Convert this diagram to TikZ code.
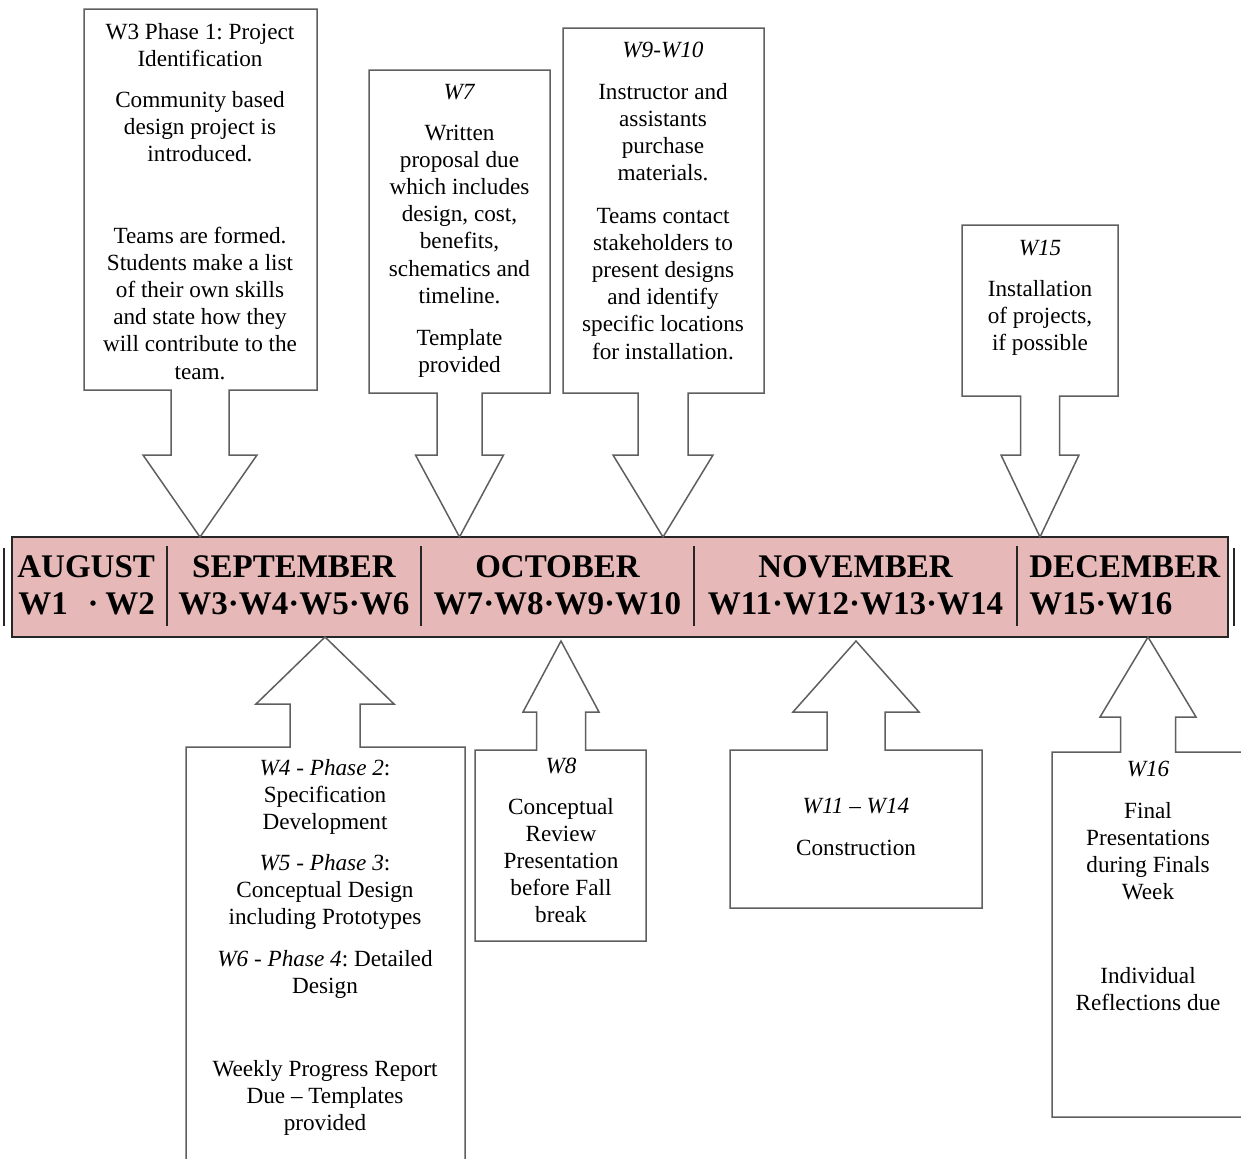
\documentclass[tikz,border=0pt]{standalone}
\usepackage{fontspec}
\setmainfont{Liberation Serif}
\frenchspacing
\definecolor{barpink}{RGB}{230,185,184}
\definecolor{edgegray}{RGB}{95,95,95}
\tikzset{
  shapeline/.style={draw=edgegray, line width=0.75pt, line join=miter, fill=white},
  barbox/.style={draw=black!85, line width=0.9pt, fill=barpink},
  txt/.style={inner sep=0pt, anchor=base, align=center, font=\fontsize{11.6}{13.6}\selectfont\frenchspacing},
  month/.style={inner sep=0pt, anchor=base, font=\fontsize{16.5}{18}\selectfont\bfseries},
  divider/.style={draw=black!85, line width=0.9pt},
}
% L, O (far edge y), R, A (attach edge y), c, s (shaft half), h (head half), H (head base y), tip y
\newcommand\callshape[9]{%
  \draw[shapeline] (#1,#2) -- (#3,#2) -- (#3,#4) -- ({#5+#6},#4) -- ({#5+#6},#8)
    -- ({#5+#7},#8) -- (#5,#9) -- ({#5-#7},#8) -- ({#5-#6},#8) -- ({#5-#6},#4)
    -- (#1,#4) -- cycle;}
\begin{document}
\begin{tikzpicture}[x=0.5pt,y=-0.5pt]
\useasboundingbox (0,0) rectangle (1241,1158);
\clip (0,0) rectangle (1241,1158);

% timeline bar
\draw[barbox] (12,537) rectangle (1228,637);
\node[inner sep=0pt, minimum size=0pt] (bar) at (620,587) {};
\foreach \x in {167,421,694,1017} \draw[divider] (\x,546) -- (\x,626);
\draw[divider] (4,548) -- (4,626);
\draw[divider] (1234,548) -- (1234,626);

\node[month, anchor=base west] (aug) at (17,577) {AUGUST};
\node[month, anchor=base west] (augw) at (18,614) {W1\hspace{0.6em}·\hspace{0.2em}W2};
\node[month] (sep) at (294,577) {SEPTEMBER};
\node[month] (sepw) at (294,614) {W3·W4·W5·W6};
\node[month] (oct) at (557.5,577) {OCTOBER};
\node[month] (octw) at (557.5,614) {W7·W8·W9·W10};
\node[month] (nov) at (855.5,577) {NOVEMBER};
\node[month] (novw) at (855.5,614) {W11·W12·W13·W14};
\node[month, anchor=base west] (dec) at (1029,577) {DECEMBER};
\node[month, anchor=base west] (decw) at (1029,614) {W15·W16};

% top callouts (arrow down to bar)
\callshape{84}{9}{317}{390}{200}{29}{57}{455}{537}
\callshape{369}{70}{550}{393}{459.5}{22.5}{44}{455}{537}
\callshape{563}{28}{764}{393}{663}{25}{50}{455}{537}
\callshape{962}{225}{1118}{396}{1040}{19.5}{39}{455}{537}

% bottom callouts (arrow up to bar)
\callshape{186}{1175}{465}{747}{325}{35}{69}{704}{637}
\callshape{475}{941}{646}{750}{561}{24.5}{38}{712}{641}
\callshape{730}{908}{982}{750}{856}{29}{63}{712}{641}
\callshape{1052}{1117}{1260}{752}{1148}{27.5}{48}{717}{637}

% texts: top (base anchor = baseline of last line)
\node[txt] (a1) at (200,66.2) {W3 Phase 1: Project\\Identification};
\node[txt] (a2) at (200,161.4) {Community based\\design project is\\introduced.};
\node[txt] (a3) at (200,379) {Teams are formed.\\Students make a list\\of their own skills\\and state how they\\will contribute to the\\team.};

\node[txt] (b1) at (459.5,99) {\textit{W7}};
\node[txt] (b2) at (459.5,303.2) {Written\\proposal due\\which includes\\design, cost,\\benefits,\\schematics and\\timeline.};
\node[txt] (b3) at (459.5,372.2) {Template\\provided};

\node[txt] (c1) at (663,57) {\textit{W9-W10}};
\node[txt] (c2) at (663,180.6) {Instructor and\\assistants\\purchase\\materials.};
\node[txt] (c3) at (663,359) {Teams contact\\stakeholders to\\present designs\\and identify\\specific locations\\for installation.};

\node[txt] (d1) at (1040,255) {\textit{W15}};
\node[txt] (d2) at (1040,350.4) {Installation\\of projects,\\if possible};

% texts: bottom
\node[txt] (e1) at (325,829.4) {\textit{W4 - Phase 2}:\\Specification\\Development};
\node[txt] (e2) at (325,924.4) {\textit{W5 - Phase 3}:\\Conceptual Design\\including Prototypes};
\node[txt] (e3) at (325,993.2) {\textit{W6 - Phase 4}: Detailed\\Design};
\node[txt] (e4) at (325,1130.4) {Weekly Progress Report\\Due – Templates\\provided};

\node[txt] (f1) at (561,773) {\textit{W8}};
\node[txt] (f2) at (561,922.8) {Conceptual\\Review\\Presentation\\before Fall\\break};

\node[txt] (g1) at (856,813) {\textit{W11 – W14}};
\node[txt] (g2) at (856,855) {Construction};

\node[txt] (h1) at (1148,776) {\textit{W16}};
\node[txt] (h2) at (1148,899.6) {Final\\Presentations\\during Finals\\Week};
\node[txt] (h3) at (1148,1010.2) {Individual\\Reflections due};
\end{tikzpicture}
\end{document}
